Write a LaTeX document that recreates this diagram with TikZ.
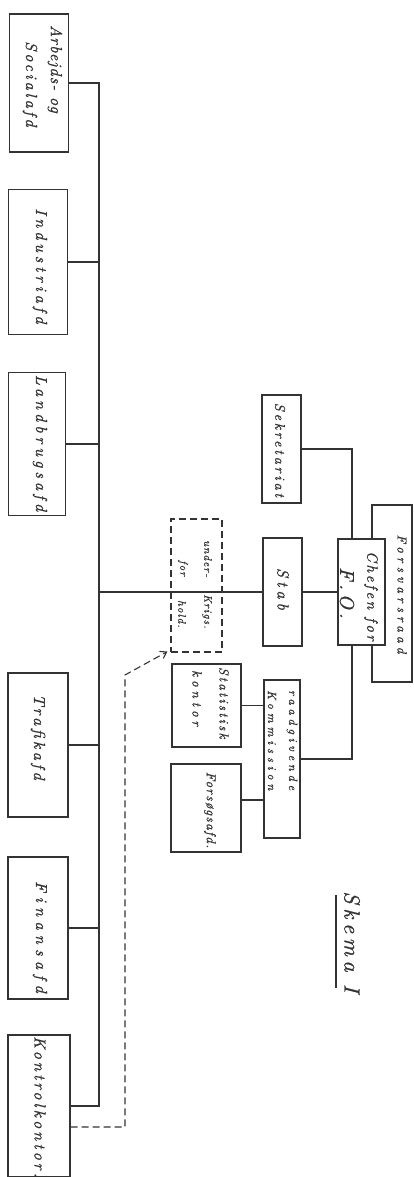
\documentclass[tikz,border=0pt]{standalone}
\usepackage{fontspec}
\usetikzlibrary{arrows.meta}
\definecolor{ink}{HTML}{333333}
\newfontfamily\handfam{lmroman10-italic.otf}[FakeBold=0.8]
\tikzset{
  box/.style={draw=ink, line width=1.1pt, fill=white, inner sep=0pt, minimum width=#1},
  dbox/.style={draw=ink, line width=1.1pt, dash pattern=on 7pt off 4pt, inner sep=0pt},
  conn/.style={draw=ink, line width=1.1pt},
  dconn/.style={draw=ink, line width=1.1pt, dash pattern=on 7pt off 4pt},
  lbl/.style 2 args={rotate=-90, text=ink, inner sep=0pt, align=center,
    font=\handfam\fontsize{#1}{24}\selectfont\addfontfeatures{LetterSpace=#2}},
}
\begin{document}
\begin{tikzpicture}[x=1pt,y=-1pt]
\useasboundingbox (0,0) rectangle (413,1177);
% left column boxes
\node[box=59, minimum height=138] (arb) at (39,83) {};
\node[box=59, minimum height=145] (ind) at (38,262) {};
\node[box=57, minimum height=143] (lan) at (37,444) {};
\node[box=60, minimum height=144] (tra) at (38,745) {};
\node[box=60, minimum height=142] (fin) at (38,928) {};
\node[box=62, minimum height=142] (kon) at (39,1106) {};
\coordinate (tr) at (99,0);
% trunk
\draw[conn] (arb.east) -| (tr |- 0,1106) -- (kon.east);
\foreach \b in {ind,lan,tra,fin} \draw[conn] (\b.east) -- (\b.east -| tr);
% center boxes
\node[box=39, minimum height=108] (sek) at (281.5,449) {};
\node[box=39, minimum height=108] (stab) at (282.5,592) {};
\node[box=40, minimum height=177] (fr) at (392,593.5) {};
\node[box=47, minimum height=106] (chef) at (361.5,592) {};
\node[box=36, minimum height=158] (raad) at (282,759) {};
\node[box=69, minimum height=83] (stat) at (206.5,705.5) {};
\node[box=70, minimum height=88] (fors) at (206,808) {};
\node[dbox, minimum width=51, minimum height=133] (ukh) at (196.5,585.5) {};
% connectors
\draw[conn] (stab.west) -- (stab.west -| tr);
\draw[conn] (stab.east) -- (chef.west |- stab.east);
\draw[conn] (sek.east) -| (352,0 |- chef.north);
\draw[conn] (352,0 |- chef.south) |- (raad.east);
\draw[conn] (stat.east) -- (stat.east -| raad.west);
\draw[conn] (fors.east |- 0,800) -- (raad.west |- 0,800);
\draw[dconn, -{Straight Barb[length=6pt,width=8pt]}] (kon.east |- 0,1127) -- (125,1127) -- (125,675) -- ([xshift=-3pt,yshift=1pt]ukh.south west);
% labels
\node[lbl={16}{7}] at (55,69) {Arbejds- og};
\node[lbl={16}{18}] at (30,84) {Socialafd};
\node[lbl={16}{24}] at (40,266) {Industriafd};
\node[lbl={16}{25}] at (40,443) {Landbrugsafd};
\node[lbl={16}{21}] at (38,737) {Trafikafd};
\node[lbl={16}{33}] at (40,937) {Finansafd};
\node[lbl={16}{19}, anchor=west] at (40,1036) {Kontrolkontor.};
\node[lbl={14}{20}] at (280,450) {Sekretariat};
\node[lbl={16}{25}] at (283,589) {Stab};
\node[lbl={13}{32}] at (402,594) {Forsvarsraad};
\node[lbl={15}{17}] at (371,596) {Chefen for};
\node[lbl={20}{18}] at (347,593) {F.O.};
\node[lbl={11}{10}, anchor=west] at (208,540) {under-};
\node[lbl={11}{10}, anchor=west] at (207,594) {Krigs.};
\node[lbl={11}{10}, anchor=west] at (183,560) {for};
\node[lbl={11}{10}, anchor=west] at (182,600) {hold.};
\node[lbl={13}{17}, anchor=west] at (224,667) {Statistisk};
\node[lbl={13}{30}, anchor=west] at (197,670) {kontor};
\node[lbl={12}{32}, anchor=west] at (292,690) {raadgivende};
\node[lbl={12}{33}, anchor=west] at (272,690) {Kommission};
\node[lbl={13}{10}] at (210,810) {Forsøgsafd.};
\node[lbl={22}{21}] (sk) at (352,942) {Skema I};
\draw[conn] (336,895) -- (336,988);
\end{tikzpicture}
\end{document}
